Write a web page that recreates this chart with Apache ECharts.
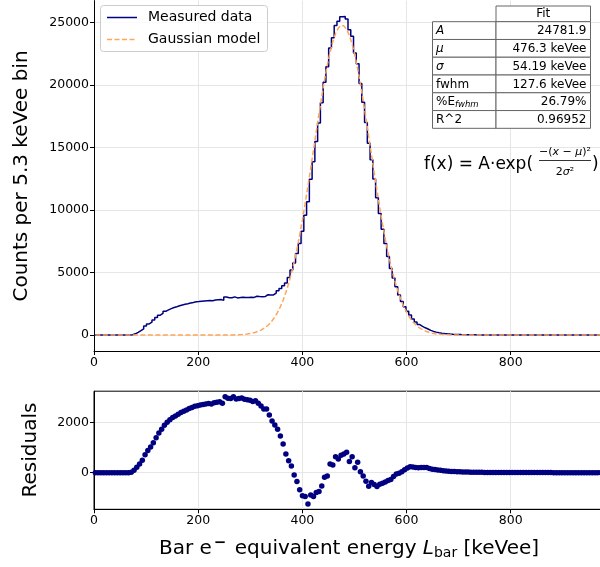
<!DOCTYPE html>
<html>
<head>
<meta charset="utf-8">
<script src="https://cdn.jsdelivr.net/npm/echarts@6/dist/echarts.min.js"></script>
<style>
html,body{margin:0;padding:0;background:#fff;}
#chart{width:600px;height:567px;}
</style>
</head>
<body>
<div id="chart"></div>
<script>
// ---------------- data ----------------
const binWidth = 5.3; // keVee per bin, bins start at 0
const measured = [
0,0,0,0,0,0,0,0,0,0,0,0,0,
20,100,220,350,500,720,890,1030,1200,1400,1590,1740,1900,2020,2120,2210,2270,2340,2410,2460,2510,2570,2610,2660,2680,2710,2730,2750,2770,2745,
2801,2821,2842,2778,3045,2987,2980,3055,2972,3001,3034,2998,3007,3021,3015,3104,3081,3070,3078,3234,3201,3211,3358,3554,3734,3940,4157,4601,5205,5765,6521,7319,8303,
9583,10671,12464,13860,15487,16969,18582,20226,21459,22968,23780,24766,25108,25466,25482,25281,24424,23907,22565,21714,20120,18626,17002,15351,14032,12494,10993,9719,8471,7321,6280,5332,4560,3872,3215,2683,2259,1904,1601,1295,1043,843,696,582,489,377,292,236,190,152,120,98,80,64,54,46,39,33,29,25,21,
18,15,13,12,10,9,8,7,6,5,5,4,4,3,3,3,2,2,2,2,2,1,1,1,1,1,1,1,1,
0,0,0,0,0,0,0,0,0,0,0,0,0,0,0,0,0,0
];
const model = [
0,0,0,0,0,0,0,0,0,0,0,0,0,0,0,0,0,0,0,0,0,0,0,0,0,0,0,0,0,0,0,0,0,0,0,0,0,0,0,0,0,0,0,
1,1,2,3,5,7,10,15,22,31,44,63,87,121,165,224,301,400,528,689,891,1141,1448,1819,2264,2790,3407,4121,4935,5855,6881,8009,9233,
10543,11924,13357,14820,16287,17729,19115,20413,21592,22621,23473,24126,24561,24766,24735,24468,23974,23267,22365,21294,20080,18756,17352,15901,14432,12974,11553,10189,8901,7701,6600,5602,4710,3922,3235,2643,2139,1714,1361,1070,833,643,491,372,279,207,152,111,80,57,40,28,20,14,9,6,4,3,2,1,1,
0,0,0,0,0,0,0,0,0,0,0,0,0,0,0,0,0,0,0,0,0,0,0,0,0,0,0,0,0,0,0,0,0,0,0,0,0,0,0,0,0,0,0,0,0,0,0
];
const residuals = [
0,0,0,0,0,0,0,0,0,0,0,0,0,
20,100,220,350,500,720,890,1030,1200,1400,1590,1740,1900,2020,2120,2210,2270,2340,2410,2460,2510,2570,2610,2660,2680,2710,2730,2750,2770,2745,
2800,2820,2840,2775,3040,2980,2970,3040,2950,2970,2990,2935,2920,2900,2850,2880,2780,2670,2550,2545,2310,2070,1910,1735,1470,1150,750,480,270,-90,-360,-690,-930,
-960,-1253,-893,-960,-800,-760,-533,-187,-133,347,307,640,547,700,747,813,450,640,200,420,40,-130,-350,-550,-400,-480,-560,-470,-430,-380,-320,-270,-150,-50,-20,40,120,190,240,225,210,200,205,210,210,170,140,125,110,95,80,70,60,50,45,40,35,30,27,24,20,
18,15,13,12,10,9,8,7,6,5,5,4,4,3,3,3,2,2,2,2,2,1,1,1,1,1,1,1,1,
0,0,0,0,0,0,0,0,0,0,0,0,0,0,0,0,0,0
];
const xTicks = [0, 200, 400, 600, 800];
const mainYTicks = [0, 5000, 10000, 15000, 20000, 25000];
const resYTicks = [0, 2000];
const tableHeader = 'Fit';
const tableLabels = ['A', 'μ', 'σ', 'fwhm', '%E_fwhm', 'R^2'];
const tableValues = ['24781.9', '476.3 keVee', '54.19 keVee', '127.6 keVee', '26.79%', '0.96952'];
const legendNames = ['Measured data', 'Gaussian model'];

// ---------------- build ----------------
const nBins = measured.length;
const xMax = nBins * binWidth;
const stepData = measured.map((v, i) => [i * binWidth, v]);
stepData.push([nBins * binWidth, measured[nBins - 1]]);
const modelData = model.map((v, i) => [(i + 0.5) * binWidth, v]);
const resData = residuals.map((v, i) => [(i + 0.5) * binWidth, v]);

const FONT = 'DejaVu Sans';
const gridColor = '#e6e6e6';
const tickFont = 12.5;
const navy = '#000080';
const orange = '#ffa556';

function xAxisCfg(gi) {
  return {
    type: 'value', gridIndex: gi, min: 0, max: xMax,
    axisLine: { show: true, onZero: false, lineStyle: { color: '#000', width: 1 } },
    axisTick: { show: true, inside: false, length: 4, lineStyle: { color: '#000' }, customValues: xTicks },
    axisLabel: { color: '#000', fontSize: tickFont, fontFamily: FONT, margin: 5, customValues: xTicks, formatter: v => String(v) },
    splitLine: { show: true, lineStyle: { color: gridColor, width: 1 } }
  };
}
function yAxisCfg(gi, min, max, ticks) {
  return {
    type: 'value', gridIndex: gi, min: min, max: max,
    axisLine: { show: true, onZero: false, lineStyle: { color: '#000', width: 1 } },
    axisTick: { show: true, inside: false, length: 4, lineStyle: { color: '#000' }, customValues: ticks },
    axisLabel: { color: '#000', fontSize: tickFont, fontFamily: FONT, margin: 5, customValues: ticks, formatter: v => String(v) },
    splitLine: { show: true, lineStyle: { color: gridColor, width: 1 } }
  };
}

function txt(x, y, text, size, align, extra) {
  return Object.assign({ type: 'text', x: x, y: y, z: 101,
    style: { text: text, fill: '#000', font: size + 'px ' + FONT, textAlign: align, textVerticalAlign: 'middle', align: align, verticalAlign: 'middle' } }, extra || {});
}

// legend graphics
const legendEls = [
  { type: 'rect', shape: { x: 100.5, y: 5.5, width: 167, height: 46, r: 3 },
    style: { fill: 'rgba(255,255,255,0.8)', stroke: '#cccccc', lineWidth: 1 }, z: 100 },
  { type: 'line', shape: { x1: 107, y1: 17.5, x2: 137, y2: 17.5 }, style: { stroke: navy, lineWidth: 1.5 }, z: 101 },
  { type: 'line', shape: { x1: 107, y1: 39.5, x2: 137, y2: 39.5 }, style: { stroke: orange, lineWidth: 1.5, lineDash: [5, 2.5] }, z: 101 },
  txt(148, 17.5, legendNames[0], 14, 'left'),
  txt(148, 39.5, legendNames[1], 14, 'left')
];

// table graphics
const tX0 = 432.5, tSplit = 496, tX1 = 590.5, hTop = 6, rTop = 21.7, rH = 17.77;
const tableEls = [];
tableEls.push({ type: 'rect', shape: { x: tSplit, y: hTop, width: tX1 - tSplit, height: rTop - hTop },
  style: { fill: '#fff', stroke: '#666', lineWidth: 1 }, z: 100 });
tableEls.push(txt((tSplit + tX1) / 2, (hTop + rTop) / 2 + 0.5, tableHeader, 12, 'center'));
function labelRich(s) {
  if (s === 'A' || s === 'μ' || s === 'σ') return '{i|' + s + '}';
  if (s.indexOf('_') > 0) { const p = s.split('_'); return '{n|' + p[0] + '}{s|' + p[1] + '}'; }
  return '{n|' + s + '}';
}
tableLabels.forEach((lab, r) => {
  const y0 = rTop + r * rH;
  tableEls.push({ type: 'rect', shape: { x: tX0, y: y0, width: tSplit - tX0, height: rH },
    style: { fill: '#fff', stroke: '#666', lineWidth: 1 }, z: 100 });
  tableEls.push({ type: 'rect', shape: { x: tSplit, y: y0, width: tX1 - tSplit, height: rH },
    style: { fill: '#fff', stroke: '#666', lineWidth: 1 }, z: 100 });
  tableEls.push({ type: 'text', x: tX0 + 3.5, y: y0 + rH / 2 + 0.5, z: 101,
    style: { text: labelRich(lab), textAlign: 'left', textVerticalAlign: 'middle', align: 'left', verticalAlign: 'middle',
      rich: {
        n: { fontSize: 12, fontFamily: FONT, color: '#000' },
        i: { fontSize: 12, fontFamily: FONT, fontStyle: 'italic', color: '#000' },
        s: { fontSize: 8.5, fontFamily: FONT, fontStyle: 'italic', color: '#000', padding: [5, 0, 0, 0] }
      } } });
  tableEls.push(txt(tX1 - 4, y0 + rH / 2 + 0.5, tableValues[r], 12, 'right'));
});

// formula graphics
const richMath = { n: { fontSize: 11, fontFamily: FONT, color: '#000' }, i: { fontSize: 11, fontFamily: FONT, fontStyle: 'italic', color: '#000' } };
const formulaEls = [
  txt(424, 165, 'f(x) = A·exp(', 17, 'left'),
  { type: 'text', x: 565, y: 152, z: 101,
    style: { text: '{n|−(}{i|x}{n| − }{i|μ}{n|)²}', textAlign: 'center', textVerticalAlign: 'middle', align: 'center', verticalAlign: 'middle', rich: richMath } },
  { type: 'line', shape: { x1: 539, y1: 160.5, x2: 591, y2: 160.5 }, style: { stroke: '#000', lineWidth: 0.8 }, z: 101 },
  { type: 'text', x: 565, y: 172, z: 101,
    style: { text: '{n|2}{i|σ}{n|²}', textAlign: 'center', textVerticalAlign: 'middle', align: 'center', verticalAlign: 'middle', rich: richMath } },
  txt(592, 165, ')', 17, 'left')
];

// axis titles
const titleEls = [
  txt(22, 176, 'Counts per 5.3 keVee bin', 20, 'center', { rotation: Math.PI / 2 }),
  txt(31, 450, 'Residuals', 20, 'center', { rotation: Math.PI / 2 }),
  { type: 'text', x: 349, y: 549, z: 101,
    style: { text: '{n|Bar e}{sup|−}{n| equivalent energy }{i|L}{sub|bar}{n| [keVee]}', textAlign: 'center', textVerticalAlign: 'middle', align: 'center', verticalAlign: 'middle',
      rich: {
        n: { fontSize: 20, fontFamily: FONT, color: '#000' },
        i: { fontSize: 20, fontFamily: FONT, fontStyle: 'italic', color: '#000' },
        sup: { fontSize: 15, fontFamily: FONT, fontWeight: 'bold', color: '#000', padding: [0, 2, 12, 2] },
        sub: { fontSize: 14, fontFamily: FONT, color: '#000', padding: [8, 0, 0, 0] }
      } } }
];

const option = {
  animation: false,
  backgroundColor: '#fff',
  textStyle: { fontFamily: FONT },
  grid: [
    { left: 94, top: 0.6, width: 508, height: 350.4, show: false, containLabel: false, outerBoundsMode: 'none' },
    { left: 94, top: 391.2, width: 508, height: 118.1, show: true, borderColor: '#000', borderWidth: 1, backgroundColor: 'transparent', containLabel: false, outerBoundsMode: 'none' }
  ],
  xAxis: [xAxisCfg(0), xAxisCfg(1)],
  yAxis: [yAxisCfg(0, -1274, 26756, mainYTicks), yAxisCfg(1, -1468, 3260, resYTicks)],
  series: [
    { name: legendNames[0], type: 'line', xAxisIndex: 0, yAxisIndex: 0, data: stepData, step: 'end',
      showSymbol: false, symbol: 'none', lineStyle: { color: navy, width: 1.5 }, itemStyle: { color: navy }, z: 2 },
    { name: legendNames[1], type: 'line', xAxisIndex: 0, yAxisIndex: 0, data: modelData,
      showSymbol: false, symbol: 'none', lineStyle: { color: orange, width: 1.5, type: [5, 2.5] }, itemStyle: { color: orange }, z: 3 },
    { name: 'Residuals', type: 'scatter', xAxisIndex: 1, yAxisIndex: 1, data: resData,
      symbol: 'circle', symbolSize: 5.5, itemStyle: { color: navy, opacity: 1 }, z: 3 }
  ],
  graphic: { elements: legendEls.concat(tableEls, formulaEls, titleEls) }
};

const chart = echarts.init(document.getElementById('chart'), null, { renderer: 'canvas' });
chart.setOption(option);
</script>
</body>
</html>
